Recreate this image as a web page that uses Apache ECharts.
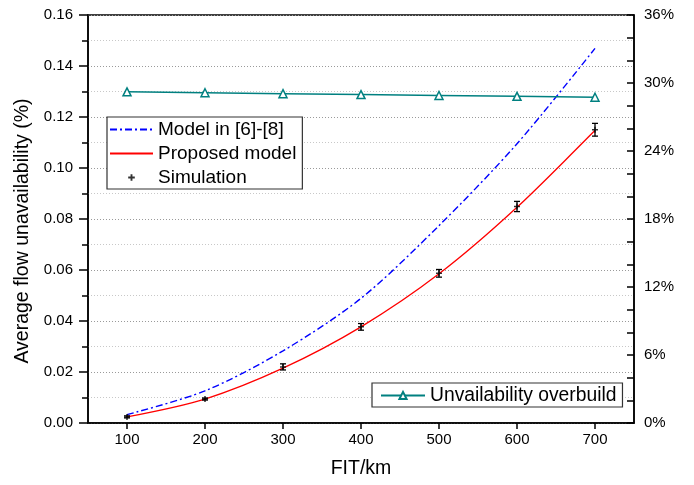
<!DOCTYPE html>
<html>
<head>
<meta charset="utf-8">
<script src="https://cdn.jsdelivr.net/npm/echarts@6/dist/echarts.min.js"></script>
<style>
html,body{margin:0;padding:0;background:#fff;}
#main{width:694px;height:485px;}
</style>
</head>
<body>
<div id="main"></div>
<script>
// data
var fitKm = [100, 200, 300, 400, 500, 600, 700];
var modelPrev = [0.0033, 0.0126, 0.0283, 0.0489, 0.0774, 0.1095, 0.1469]; // Model in [6]-[8]
var proposed = [0.0024, 0.0094, 0.0215, 0.0377, 0.0585, 0.0846, 0.1148];  // Proposed model
var simMean = [0.0024, 0.0094, 0.0220, 0.0377, 0.0587, 0.0849, 0.1150];   // Simulation
var simErr = [0.0004, 0.0004, 0.0012, 0.0013, 0.0015, 0.0020, 0.0025];
var overbuild = [29.22, 29.14, 29.06, 28.98, 28.90, 28.82, 28.74];        // right axis, %
var xTicks = [100, 200, 300, 400, 500, 600, 700];

var FONT = 'Liberation Sans, Arial, sans-serif';
var PLUS = 'path://M-1,-4H1V-1H4V1H1V4H-1V1H-4V-1H-1Z';
// 图例里的小十字(两个空点把范围撑大，十字就变小)
var PLUS_LEGEND = 'path://M-22,-9L-22,-9M22,9L22,9M-1,-3.5H1V-1H3.5V1H1V3.5H-1V1H-3.5V-1H-1Z';

function pairs(xs, ys){
	var out = [];
	for(var i = 0; i < xs.length; i++){
		out.push([xs[i], ys[i]]);
	}
	return out;
}

var errData = [];
for(var i = 0; i < fitKm.length; i++){
	errData.push([fitKm[i], simMean[i] - simErr[i], simMean[i] + simErr[i]]);
}

//误差棒
function renderErrBar(params, api){
	var x = api.value(0);
	var lo = api.coord([x, api.value(1)]);
	var hi = api.coord([x, api.value(2)]);
	var hw = 3;
	var st = {stroke: '#000', lineWidth: 1.3};
	return {
		type: 'group',
		children: [
			{type: 'line', shape: {x1: hi[0], y1: hi[1], x2: lo[0], y2: lo[1]}, style: st},
			{type: 'line', shape: {x1: hi[0] - hw, y1: hi[1], x2: hi[0] + hw, y2: hi[1]}, style: st},
			{type: 'line', shape: {x1: lo[0] - hw, y1: lo[1], x2: lo[0] + hw, y2: lo[1]}, style: st}
		]
	};
}

var myChart = echarts.init(document.getElementById('main'), null, {renderer: 'canvas'});

var option = {
	backgroundColor: '#fff',
	animation: false,
	textStyle: {fontFamily: FONT},
	grid: {
		left: 88, right: 60, top: 15, bottom: 62,
		show: true, borderColor: '#000', borderWidth: 1.5
	},
	legend: [{
		orient: 'vertical',
		left: 107, top: 117,
		data: [
			{name: 'Model in [6]-[8]', itemStyle: {opacity: 0}},
			{name: 'Proposed model', itemStyle: {opacity: 0}},
			{name: 'Simulation', icon: PLUS_LEGEND}
		],
		itemWidth: 43, itemHeight: 17, itemGap: 5,
		padding: [3, 6, 2, 2],
		borderColor: '#333', borderWidth: 1.2,
		backgroundColor: '#fff',
		textStyle: {fontSize: 19, color: '#000', fontFamily: FONT}
	}, {
		orient: 'horizontal',
		left: 372, top: 383,
		data: ['Unvailability overbuild'],
		itemWidth: 44, itemHeight: 9,
		padding: [3, 6, 2, 8],
		borderColor: '#333', borderWidth: 1.2,
		backgroundColor: '#fff',
		textStyle: {fontSize: 19.3, color: '#000', fontFamily: FONT}
	}],
	xAxis: {
		type: 'value',
		min: 50, max: 750,
		name: 'FIT/km',
		nameLocation: 'middle',
		nameGap: 36,
		nameTextStyle: {fontSize: 19.5, color: '#000', fontFamily: FONT},
		axisLine: {lineStyle: {color: '#000', width: 1.5}},
		axisTick: {customValues: xTicks, length: 6, lineStyle: {color: '#000', width: 1.5}},
		axisLabel: {customValues: xTicks, fontSize: 15, color: '#000', margin: 9, fontFamily: FONT},
		splitLine: {show: false}
	},
	yAxis: [{
		type: 'value',
		min: 0, max: 0.16, interval: 0.02,
		name: 'Average flow unavailability (%)',
		nameLocation: 'middle',
		nameGap: 54,
		nameTextStyle: {fontSize: 19.5, color: '#000', fontFamily: FONT, padding: [0, 24, 0, 0]},
		axisLine: {show: true, lineStyle: {color: '#000', width: 1.5}},
		axisTick: {length: 9, lineStyle: {color: '#000', width: 1.5}},
		minorTick: {show: true, splitNumber: 2, length: 6, lineStyle: {color: '#000', width: 1.5}},
		axisLabel: {
			fontSize: 15, color: '#000', margin: 15, fontFamily: FONT,
			formatter: function(v){ return v.toFixed(2); }
		},
		splitLine: {show: true, lineStyle: {color: '#9a9a9a', type: [1, 2], width: 1}},
		minorSplitLine: {show: true, lineStyle: {color: '#c8c8c8', type: [1, 2], width: 1}}
	}, {
		type: 'value',
		min: 0, max: 36, interval: 6,
		position: 'right',
		axisLine: {show: true, lineStyle: {color: '#000', width: 1.5}},
		axisTick: {inside: true, length: 7, lineStyle: {color: '#000', width: 1.5}},
		minorTick: {show: true, splitNumber: 3, length: 7, lineStyle: {color: '#000', width: 1.5}},
		axisLabel: {fontSize: 15, color: '#000', margin: 10, formatter: '{value}%', fontFamily: FONT},
		splitLine: {show: false}
	}],
	series: [{
		name: 'Model in [6]-[8]',
		type: 'line',
		smooth: 0.3,
		showSymbol: false,
		symbol: 'none',
		color: '#0000ff',
		lineStyle: {color: '#0000ff', width: 1.4, type: [7, 3, 2, 3]},
		data: pairs(fitKm, modelPrev),
		z: 3
	}, {
		name: 'Proposed model',
		type: 'line',
		smooth: 0.3,
		showSymbol: false,
		symbol: 'none',
		color: '#ff0000',
		lineStyle: {color: '#ff0000', width: 1.3},
		data: pairs(fitKm, proposed),
		z: 3
	}, {
		name: 'Simulation',
		type: 'scatter',
		symbol: PLUS,
		symbolSize: 6,
		itemStyle: {color: '#000'},
		data: pairs(fitKm, simMean),
		z: 5
	}, {
		name: 'simErr',
		type: 'custom',
		renderItem: renderErrBar,
		data: errData,
		encode: {x: 0, y: [1, 2]},
		z: 5
	}, {
		name: 'Unvailability overbuild',
		type: 'line',
		yAxisIndex: 1,
		symbol: 'triangle',
		symbolSize: 8,
		color: '#008080',
		lineStyle: {color: '#008080', width: 1.5},
		itemStyle: {color: '#fff', borderColor: '#008080', borderWidth: 1.5},
		data: pairs(fitKm, overbuild),
		z: 4
	}]
};

myChart.setOption(option);
</script>
</body>
</html>
